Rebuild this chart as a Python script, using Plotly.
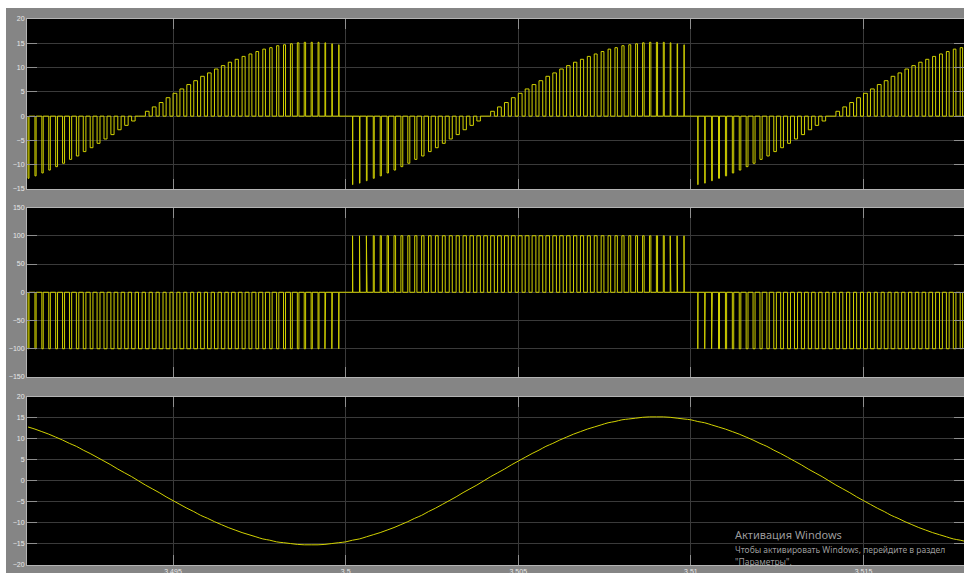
import numpy as np
import plotly.graph_objects as go
from plotly.subplots import make_subplots

# ---------------- data ----------------
t_first_pulse_s = 3.4908      # time of first carrier pulse at the left edge
carrier_period_s = 0.0002     # PWM carrier period (5 kHz)

# load current sampled at every carrier pulse (bottom trace), A
current_A = [
    12.8, 12.3, 11.7, 11.1, 10.4, 9.7, 8.9, 8.2, 7.3, 6.5, 5.6, 4.7, 3.8, 2.8, 1.9, 1.0, 0.0,
    -1.0, -1.9, -2.8, -3.8, -4.7, -5.6, -6.5, -7.3, -8.2, -8.9, -9.7, -10.4, -11.1, -11.7, -12.3,
    -12.8, -13.3, -13.8, -14.1, -14.5, -14.7, -14.9, -15.1, -15.2, -15.2,
    -15.2, -15.1, -14.9, -14.7, -14.5, -14.1, -13.8, -13.3, -12.8, -12.3, -11.7, -11.1, -10.4,
    -9.7, -8.9, -8.2, -7.3, -6.5, -5.6, -4.7, -3.8, -2.8, -1.9, -1.0, 0.0,
    1.0, 1.9, 2.8, 3.8, 4.7, 5.6, 6.5, 7.3, 8.2, 8.9, 9.7, 10.4, 11.1, 11.7, 12.3,
    12.8, 13.3, 13.8, 14.1, 14.5, 14.7, 14.9, 15.1, 15.2, 15.2,
    15.2, 15.1, 14.9, 14.7, 14.5, 14.1, 13.8, 13.3, 12.8, 12.3, 11.7, 11.1, 10.4,
    9.7, 8.9, 8.2, 7.3, 6.5, 5.6, 4.7, 3.8, 2.8, 1.9, 1.0, 0.0,
    -1.0, -1.9, -2.8, -3.8, -4.7, -5.6, -6.5, -7.3, -8.2, -8.9, -9.7, -10.4, -11.1, -11.7,
    -12.3, -12.8, -13.3, -13.8, -14.1, -14.5,
]

# pulse duty of each carrier period (fraction of period at +/-100 V)
duty = [
    0.14, 0.17, 0.20, 0.23, 0.27, 0.29, 0.32, 0.35, 0.38, 0.40, 0.42, 0.44, 0.46, 0.48, 0.50,
    0.51, 0.52, 0.53, 0.54, 0.55, 0.55, 0.55, 0.55, 0.55, 0.54, 0.53, 0.52, 0.51, 0.50, 0.48,
    0.46, 0.44, 0.42, 0.40, 0.38, 0.35, 0.32, 0.29, 0.27, 0.23, 0.20, 0.17, 0.14, 0.10, 0.07,
    0.03, 0.00,
    0.03, 0.07, 0.10, 0.14, 0.17, 0.20, 0.23, 0.27, 0.29, 0.32, 0.35, 0.38, 0.40, 0.42, 0.44,
    0.46, 0.48, 0.50, 0.51, 0.52, 0.53, 0.54, 0.55, 0.55, 0.55, 0.55, 0.55, 0.54, 0.53, 0.52,
    0.51, 0.50, 0.48, 0.46, 0.44, 0.42, 0.40, 0.38, 0.35, 0.32, 0.29, 0.27, 0.23, 0.20, 0.17,
    0.14, 0.10, 0.07, 0.03, 0.00,
    0.03, 0.07, 0.10, 0.14, 0.17, 0.20, 0.23, 0.27, 0.29, 0.32, 0.35, 0.38, 0.40, 0.42, 0.44,
    0.46, 0.48, 0.50, 0.51, 0.52, 0.53, 0.54, 0.55, 0.55, 0.55, 0.55, 0.55, 0.54, 0.53, 0.52,
    0.51, 0.50, 0.48, 0.46, 0.44, 0.42, 0.40, 0.38, 0.35, 0.32,
]

# inverter output voltage polarity per half cycle
half_cycle_edges_s = [3.5, 3.51]
half_cycle_levels_V = [-100, 100, -100]

x_range = [3.49077, 3.51791]
x_ticks = [3.495, 3.5, 3.505, 3.51, 3.515]
x_tick_labels = ["3.495", "3.5", "3.505", "3.51", "3.515"]
y1_ticks = [-15, -10, -5, 0, 5, 10, 15, 20]
y2_ticks = [-150, -100, -50, 0, 50, 100, 150]
y3_ticks = [-20, -15, -10, -5, 0, 5, 10, 15, 20]

# ---------------- build traces ----------------
t = t_first_pulse_s + carrier_period_s * np.arange(len(current_A))
v_level = np.array(half_cycle_levels_V)[
    np.searchsorted(half_cycle_edges_s, t + 1e-9, side="right")]


def pulse_path(values):
    xs, ys = [], []
    for tj, dj, vj in zip(t, duty, values):
        if dj <= 0:
            continue
        te = tj + dj * carrier_period_s
        xs += [tj, tj, te, te]
        ys += [0, vj, vj, 0]
    return xs, ys


dc_current = [i * v / 100.0 for i, v in zip(current_A, v_level)]
x1, y1 = pulse_path(dc_current)
x2, y2 = pulse_path(list(v_level))

line_col = "#d2d200"
fig = make_subplots(rows=3, cols=1)
fig.add_trace(go.Scatter(x=x1, y=y1, mode="lines",
                         line=dict(color=line_col, width=1)), row=1, col=1)
fig.add_trace(go.Scatter(x=x2, y=y2, mode="lines",
                         line=dict(color=line_col, width=1)), row=2, col=1)
fig.add_trace(go.Scatter(x=t, y=current_A, mode="lines", line_shape="spline",
                         line=dict(color=line_col, width=1)), row=3, col=1)

W, H = 964, 573
L = 27
PW = W - L


def ydom(top_px, bot_px):
    return [1 - bot_px / H, 1 - top_px / H]


domains = [ydom(19, 189), ydom(207.5, 377), ydom(396.7, 565)]
yranges = [[-15, 20], [-150, 150], [-20, 20]]
yticks = [y1_ticks, y2_ticks, y3_ticks]

grid_col = "#3a3a3a"
tick_col = "#8f8f8f"
border_col = "#b4b4b4"
lab_font = dict(family="Liberation Sans, Arial", size=7, color="#e8e8e8")

for k in range(3):
    sfx = "" if k == 0 else str(k + 1)
    fig.layout["xaxis" + sfx].update(
        range=x_range, tickvals=x_ticks, ticktext=x_tick_labels,
        showticklabels=(k == 2), showgrid=True, gridcolor=grid_col, gridwidth=1,
        ticks="inside", ticklen=10, tickcolor=tick_col, tickwidth=1,
        showline=True, linecolor=border_col, linewidth=1, mirror="ticks",
        zeroline=False, tickfont=lab_font, automargin=False, ticklabelstandoff=0,
    )
    fig.layout["yaxis" + sfx].update(
        domain=domains[k], range=yranges[k], tickvals=yticks[k],
        showgrid=True, gridcolor=grid_col, gridwidth=1,
        ticks="inside", ticklen=10, tickcolor=tick_col, tickwidth=1,
        showline=True, linecolor=border_col, linewidth=1, mirror="ticks",
        zeroline=False, tickfont=lab_font, automargin=False,
    )

fig.update_layout(
    width=W, height=H, margin=dict(l=L, r=0, t=0, b=0),
    paper_bgcolor="#858585", plot_bgcolor="#000000", showlegend=False,
)

# white screenshot border strips (top and left)
fig.add_shape(type="rect", xref="paper", yref="paper",
              x0=-L / PW, x1=(W - L) / PW + 0.01, y0=1 - 8 / H, y1=1.0,
              fillcolor="#ffffff", line_width=0, layer="above")
fig.add_shape(type="rect", xref="paper", yref="paper",
              x0=-L / PW, x1=-(L - 6) / PW, y0=0, y1=1.0,
              fillcolor="#ffffff", line_width=0, layer="above")

# Windows activation watermark
wm_col = "rgba(175,175,175,0.9)"
fig.add_annotation(text="Активация Windows", xref="paper", yref="paper",
                   x=(733 - L) / PW, y=1 - 534 / H, xanchor="left", yanchor="middle",
                   showarrow=False, font=dict(family="Noto Sans", size=11, color=wm_col))
fig.add_annotation(text="Чтобы активировать Windows, перейдите в раздел", xref="paper",
                   yref="paper", x=(733 - L) / PW, y=1 - 549 / H, xanchor="left",
                   yanchor="middle", showarrow=False,
                   font=dict(family="Noto Sans", size=8.5, color=wm_col))
fig.add_annotation(text="\"Параметры\".", xref="paper", yref="paper",
                   x=(733 - L) / PW, y=1 - 561 / H, xanchor="left", yanchor="middle",
                   showarrow=False, font=dict(family="Noto Sans", size=8.5, color=wm_col))

fig.write_html(
    "out.html",
    config={"displayModeBar": False},
    post_script="document.body.style.margin='0';document.body.style.overflow='hidden';",
)
